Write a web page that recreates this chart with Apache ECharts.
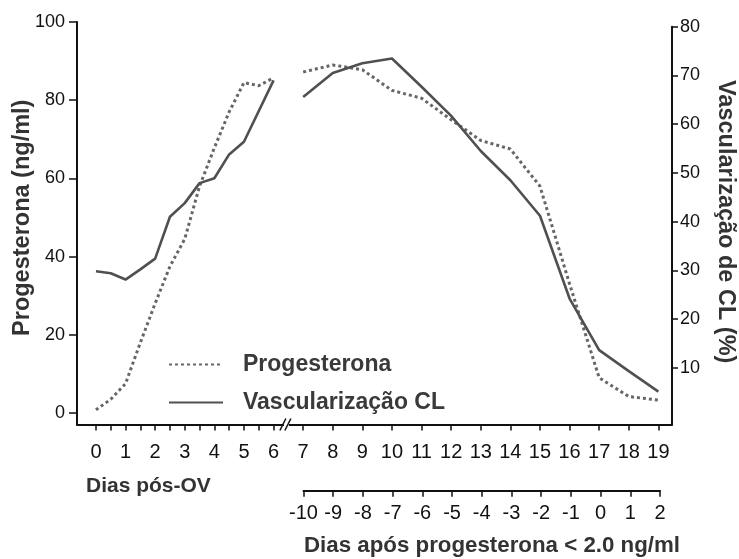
<!DOCTYPE html>
<html><head><meta charset="utf-8">
<script src="https://cdn.jsdelivr.net/npm/echarts@6/dist/echarts.min.js"></script>
<style>html,body{margin:0;padding:0;background:#fff}#c{width:739px;height:559px}</style>
</head><body><div id="c"></div>
<script>
// ---- data ----
const progDaysEarly = [0, 0.5, 1, 1.5, 2, 2.5, 3, 3.5, 4, 4.5, 5, 5.5, 6];
const progValsEarly = [0.8, 3.5, 7.5, 18, 28, 37.5, 44.5, 58, 67.8, 77, 84.5, 83.7, 85.7];
const progDaysLate  = [7, 8, 9, 10, 11, 12, 13, 14, 15, 16, 17, 18, 19];
const progValsLate  = [87.2, 89, 87.8, 82.5, 80.5, 75, 69.7, 67.5, 58, 33, 9, 4.2, 3.3];

const vascDaysEarly = [0, 0.5, 1, 1.5, 2, 2.5, 3, 3.5, 4, 4.5, 5, 6];
const vascValsEarly = [29.8, 29.4, 28.1, 30.2, 32.4, 41.0, 43.8, 47.9, 48.9, 53.8, 56.4, 69];
const vascDaysLate  = [7, 8, 9, 10, 11, 12, 13, 14, 15, 16, 17, 18, 19];
const vascValsLate  = [65.6, 70.5, 72.5, 73.5, 67.7, 61.7, 54.5, 48.5, 41.2, 24.2, 13.6, 9.3, 5.1];

const xTickValues  = [0, 0.5, 1, 1.5, 2, 2.5, 3, 3.5, 4, 4.5, 5, 5.5, 6, 7, 8, 9, 10, 11, 12, 13, 14, 15, 16, 17, 18, 19];
const xLabelValues = [0, 1, 2, 3, 4, 5, 6, 7, 8, 9, 10, 11, 12, 13, 14, 15, 16, 17, 18, 19];
const leftTicks    = [0, 20, 40, 60, 80, 100];
const rightTicks   = [10, 20, 30, 40, 50, 60, 70, 80];
const secondTicks  = [-10, -9, -8, -7, -6, -5, -4, -3, -2, -1, 0, 1, 2];

const seriesNames = ['Progesterona', 'Vascularização CL'];
const leftTitle = 'Progesterona (ng/ml)';
const rightTitle = 'Vascularização de CL (%)';
const xTitle = 'Dias pós-OV';
const x2Title = 'Dias após progesterona < 2.0 ng/ml';
const breakDay = 6.5;

// ---- build ----
const FONT = '"Liberation Sans", Arial, Helvetica, sans-serif';
function pairs(d, v) { return d.map((x, i) => [x, v[i]]); }
const progData = pairs(progDaysEarly, progValsEarly).concat([[breakDay, '-']], pairs(progDaysLate, progValsLate));
const vascData = pairs(vascDaysEarly, vascValsEarly).concat([[breakDay, '-']], pairs(vascDaysLate, vascValsLate));

const AX = '#111';
const chart = echarts.init(document.getElementById('c'), null, {renderer: 'canvas'});
const option = {
  animation: false,
  backgroundColor: '#fff',
  textStyle: {fontFamily: FONT},
  title: [
    {text: xTitle, left: 86, top: 476, padding: 0,
     textStyle: {fontFamily: FONT, fontSize: 21, fontWeight: 'bold', color: '#333'}},
    {text: x2Title, left: 304, top: 535, padding: 0,
     textStyle: {fontFamily: FONT, fontSize: 22.3, fontWeight: 'bold', color: '#333'}}
  ],
  legend: {
    orient: 'vertical', left: 168, top: 353, padding: 0, itemWidth: 54, itemHeight: 22, itemGap: 15,
    data: seriesNames,
    itemStyle: {opacity: 0},
    textStyle: {fontFamily: FONT, fontSize: 23, fontWeight: 'bold', color: '#3a3a3a', padding: [0, 0, 0, 15]}
  },
  grid: [
    {left: 77, right: 67, top: 22, bottom: 134.5, outerBoundsMode: 'none', containLabel: false},
    {left: 77, right: 67, top: 26.8, bottom: 134.5, outerBoundsMode: 'none', containLabel: false},
    {left: 303.5, right: 79, top: 470, bottom: 68.3, outerBoundsMode: 'none', containLabel: false}
  ],
  xAxis: [
    {gridIndex: 0, type: 'value', min: -0.64, max: 19.46,
     splitLine: {show: false},
     axisLine: {onZero: false, lineStyle: {color: AX, width: 2}},
     axisTick: {length: 6, lineStyle: {color: AX, width: 1.5}, customValues: xTickValues},
     axisLabel: {customValues: xLabelValues, fontSize: 20, color: AX, margin: 18, fontFamily: FONT}},
    {gridIndex: 1, type: 'value', min: -0.64, max: 19.46, show: false},
    {gridIndex: 2, type: 'value', min: -10, max: 2, interval: 1, position: 'bottom',
     splitLine: {show: false},
     axisLine: {onZero: false, lineStyle: {color: AX, width: 2}},
     axisTick: {length: 6, lineStyle: {color: AX, width: 1.5}, customValues: secondTicks},
     axisLabel: {customValues: secondTicks, fontSize: 20, color: AX, margin: 13, fontFamily: FONT}}
  ],
  yAxis: [
    {gridIndex: 0, type: 'value', min: -2.95, max: 100, position: 'left',
     splitLine: {show: false},
     axisLine: {onZero: false, lineStyle: {color: AX, width: 2}},
     axisTick: {length: 8, lineStyle: {color: AX, width: 1.5}, customValues: leftTicks},
     axisLabel: {customValues: leftTicks, fontSize: 18, color: AX, margin: 12, fontFamily: FONT},
     name: leftTitle, nameLocation: 'middle', nameGap: 42, nameMoveOverlap: false,
     nameTextStyle: {fontFamily: FONT, fontSize: 23.5, fontWeight: 'bold', color: '#333', padding: [0, 0, 0, 11]}},
    {gridIndex: 1, type: 'value', min: -1.66, max: 80, position: 'right',
     splitLine: {show: false},
     axisLine: {onZero: false, lineStyle: {color: AX, width: 2}},
     axisTick: {length: 6, lineStyle: {color: AX, width: 1.5}, customValues: rightTicks},
     axisLabel: {customValues: rightTicks, fontSize: 18, color: AX, margin: 8, fontFamily: FONT},
     name: rightTitle, nameLocation: 'middle', nameGap: 41, nameRotate: -90, nameMoveOverlap: false,
     nameTextStyle: {fontFamily: FONT, fontSize: 23.5, fontWeight: 'bold', color: '#333', padding: [0, 8, 0, 0]}},
    {gridIndex: 2, type: 'value', show: false}
  ],
  series: [
    {name: seriesNames[0], type: 'line', xAxisIndex: 0, yAxisIndex: 0, data: progData,
     symbol: 'none', connectNulls: false, color: '#666',
     lineStyle: {color: '#666', width: 3, type: [3, 3], cap: 'butt'}},
    {name: seriesNames[1], type: 'line', xAxisIndex: 1, yAxisIndex: 1, data: vascData,
     symbol: 'none', connectNulls: false, color: '#505050',
     lineStyle: {color: '#505050', width: 2.6}}
  ]
};
chart.setOption(option);

// axis-break mark "//" placed through the axis scales
const bx = chart.convertToPixel({xAxisIndex: 0}, 6.45);
const by = chart.convertToPixel({yAxisIndex: 0}, -2.95);
chart.setOption({
  graphic: [
    {type: 'rect', shape: {x: bx - 3, y: by - 3, width: 5, height: 6}, style: {fill: '#fff'}, z: 100},
    {type: 'line', shape: {x1: bx - 7, y1: by + 6, x2: bx - 1, y2: by - 6}, style: {stroke: AX, lineWidth: 1.6}, z: 101},
    {type: 'line', shape: {x1: bx - 2, y1: by + 6, x2: bx + 4, y2: by - 6}, style: {stroke: AX, lineWidth: 1.6}, z: 101}
  ]
});
</script></body></html>
